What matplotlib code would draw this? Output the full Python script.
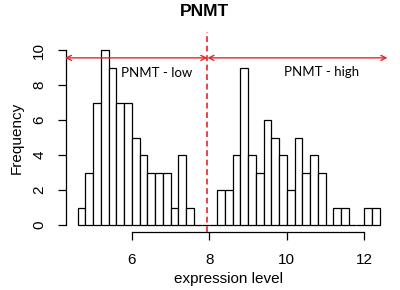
import numpy as np
import matplotlib
matplotlib.use("Agg")
import matplotlib.pyplot as plt

# Histogram bins (width 0.2) and counts
bin_start = 4.6
bin_width = 0.2
counts = [1, 3, 7, 10, 9, 7, 7, 5, 4, 3, 3, 3, 1, 4, 1,   # 4.6 - 7.6
          0, 0, 0,                                         # 7.6 - 8.2
          2, 2, 4, 9, 4, 3, 6, 5, 4, 2, 5, 3, 4, 3,        # 8.2 - 11.0
          0, 1, 1, 0, 0, 1, 1]                             # 11.0 - 12.4
x_ticks = [6, 8, 10, 12]
y_ticks = [0, 2, 4, 6, 8, 10]
cutoff = 7.95
arrow_y = 9.55
low_range = (4.27, cutoff)
high_range = (cutoff, 12.6)
title = "PNMT"
label_low = "PNMT - low"
label_high = "PNMT - high"
xlabel = "expression level"
ylabel = "Frequency"

red = "#e3262b"
edges = bin_start + bin_width * np.arange(len(counts) + 1)

fig = plt.figure(figsize=(4.0, 2.9), dpi=100)
ax = fig.add_axes([0.164, 0.2, 0.9795 - 0.164, 0.8517 - 0.2])

ax.bar(edges[:-1], counts, width=bin_width, align="edge",
       facecolor="white", edgecolor="black", linewidth=0.9)

xmin, xmax = edges[0], edges[-1]
pad = (xmax - xmin) * 0.04
ax.set_xlim(xmin - pad, xmax + pad)
ax.set_ylim(-0.4, 10.4)

for s in ["top", "right"]:
    ax.spines[s].set_visible(False)
ax.spines["left"].set_bounds(0, 10)
ax.spines["bottom"].set_bounds(6, 12)
for s in ["left", "bottom"]:
    ax.spines[s].set_linewidth(0.9)

ax.set_xticks(x_ticks)
ax.set_yticks(y_ticks)
ax.set_xticklabels([str(t) for t in x_ticks], fontsize=11, family="Liberation Sans")
ax.set_yticklabels([str(t) for t in y_ticks], fontsize=11, family="Liberation Sans",
                   rotation=90, va="center")
ax.tick_params(axis="both", length=6, width=0.9, direction="out")
ax.tick_params(axis="x", pad=9)
ax.tick_params(axis="y", pad=8)

ax.set_xlabel(xlabel, fontsize=11, family="Liberation Sans", labelpad=4)
ax.set_ylabel(ylabel, fontsize=11, family="Liberation Sans", labelpad=6)
fig.text(0.5125, 0.962, title, ha="center", va="center", fontsize=12.5,
         fontweight="bold", family="Liberation Sans")

# cutoff line
ax.plot([cutoff, cutoff], [-0.4, 11.05], color=red, linestyle=(0, (3.5, 2.2)),
        linewidth=1.2, clip_on=False, zorder=5)

# arrows
for lo, hi in (low_range, high_range):
    ax.annotate("", xy=(lo, arrow_y), xytext=(hi, arrow_y),
                arrowprops=dict(arrowstyle="<->", color=red, lw=1.0,
                                shrinkA=0, shrinkB=0,
                                mutation_scale=9),
                annotation_clip=False)

ax.text(6.64, 8.7, label_low, ha="center", va="center", fontsize=9.5, family="Lato")
ax.text(10.9, 8.75, label_high, ha="center", va="center", fontsize=9.5, family="Lato")

fig.savefig("out.png", dpi=100)
